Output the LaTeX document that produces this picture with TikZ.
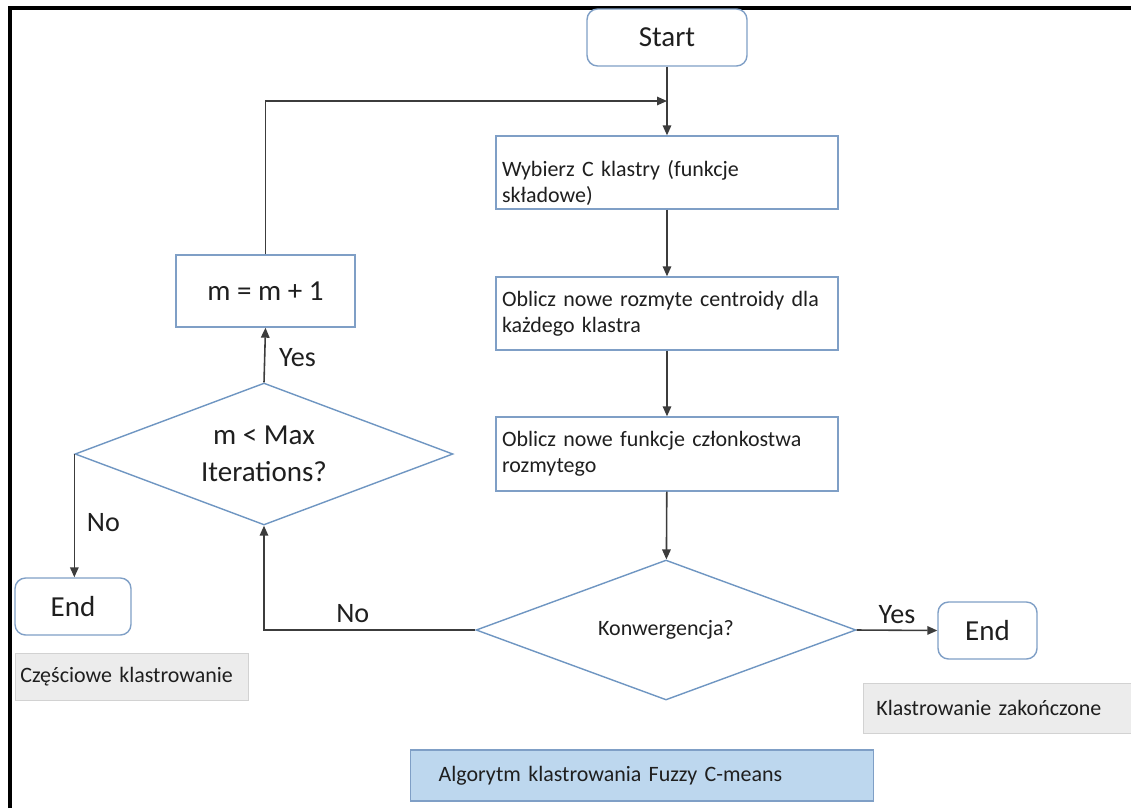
\documentclass[tikz,border=0pt]{standalone}
\usepackage{fontspec}
\setmainfont{Carlito}
\usetikzlibrary{arrows.meta, positioning, shapes.geometric}
\definecolor{azulborde}{HTML}{7F9FC6}
\definecolor{azulrombo}{HTML}{6F96C2}
\definecolor{grisoscuro}{HTML}{3C3C3C}
\definecolor{grisclaro}{HTML}{ECECEC}
\definecolor{grisborde}{HTML}{D2D2D2}
\definecolor{azulclaro}{HTML}{BDD7EE}
\colorlet{colBorde}{azulborde}
\colorlet{colRombo}{azulrombo}
\colorlet{colFlecha}{grisoscuro}
\colorlet{colTexto}{black!88}
\colorlet{colNota}{grisclaro}
\colorlet{colNotaBorde}{grisborde}
\colorlet{colTitulo}{azulclaro}
\tikzset{
  cajaBase/.style={
    draw=colBorde, line width=0.8pt, fill=white,
    align=center, text=colTexto, inner sep=2pt,
    font=\fontsize{16.5}{20}\selectfont
  },
  cajaTerminal/.style={cajaBase, rounded corners=6pt, minimum height=1.14cm},
  cajaContador/.style={cajaBase, minimum width=3.58cm, minimum height=1.44cm},
  cajaProceso/.style={cajaBase, minimum width=6.84cm, minimum height=1.44cm,
    text width=6.6cm, align=left, font=\fontsize{12.5}{15}\selectfont},
  rombo/.style={diamond, aspect=2.7, draw=colRombo, line width=0.8pt, fill=white,
    align=center, text=colTexto, inner sep=1pt},
  notaBase/.style={anchor=west, align=left, text=colTexto,
    font=\fontsize{12.5}{15}\selectfont},
  notaGris/.style={notaBase, draw=colNotaBorde, fill=colNota},
  notaAzul/.style={notaBase, draw=colBorde, line width=0.8pt, fill=colTitulo},
  flecha/.style={-{Triangle[length=2mm, width=1.7mm]}, line width=0.9pt, colFlecha},
  etiquetaFlecha/.style={font=\fontsize{16}{19}\selectfont, text=colTexto, inner sep=1pt},
  marco/.style={line width=2pt, black},
}

\begin{document}
\begin{tikzpicture}[x=0.02cm, y=-0.02cm]
    \useasboundingbox (0,0) rectangle (1131,808);
    \draw[marco] (10,808) -- (10,8) -- (1131,8);

    \node[cajaTerminal, minimum width=3.2cm] (start) at (667,37.5) {Start};
    \node[cajaProceso] (wybierz) at (667,172.5)
      {\rule{0pt}{0.73cm}Wybierz C klastry (funkcje\\ składowe)};
    \node[cajaProceso, minimum height=1.46cm] (centroidy) at (667,313.5)
      {Oblicz nowe rozmyte centroidy dla\\ każdego klastra};
    \node[cajaProceso, minimum height=1.48cm] (czlonkostwo) at (667,454)
      {Oblicz nowe funkcje członkostwa\\ rozmytego};
    \node[rombo, minimum width=7.6cm, minimum height=2.8cm,
      font=\fontsize{12.5}{15}\selectfont] (konw) at (666,630) {Konwergencja?};
    \node[cajaTerminal, minimum width=1.98cm] (endR) at (987.5,630.5) {End};

    \node[rombo, minimum width=7.56cm, minimum height=2.84cm,
      font=\fontsize{16.5}{21}\selectfont] (maxIter) at (264,454) {m < Max\\ Iterations?};
    \node[cajaContador] (licznik) at (265.5,291) {m = m + 1};
    \node[cajaTerminal, minimum width=2.32cm] (endL) at (73,606.5) {End};

    \node[notaGris, minimum height=0.94cm, text width=4.46cm, inner xsep=0.1cm]
      (czesciowe) at (15,676.5) {Częściowe klastrowanie};
    \node[notaGris, minimum height=1cm, text width=4.84cm, inner xsep=0.26cm]
      (zakonczone) at (863,708) {Klastrowanie zakończone};
    \node[notaAzul, minimum height=1.02cm, text width=8.14cm, inner xsep=0.56cm]
      (titulo) at (410,775.5) {Algorytm klastrowania Fuzzy C-means};

    \coordinate (wejscie) at (667,101);
    \draw[flecha] (start) -- (wybierz);
    \draw[flecha] (licznik.north) |- (wejscie);
    \draw[flecha] (wybierz) -- (centroidy);
    \draw[flecha] (centroidy) -- (czlonkostwo);
    \draw[flecha] (czlonkostwo) -- (konw);
    \draw[flecha] (konw.east) -- node[etiquetaFlecha, above, yshift=2pt] {Yes} (endR.west);
    \draw[flecha] (konw.west) -| node[etiquetaFlecha, pos=0.29, above, yshift=3pt] {No}
      (maxIter.south);
    \draw[flecha] (maxIter.north) -- node[etiquetaFlecha, pos=0.45, right, xshift=0.24cm] {Yes}
      (licznik.south);
    \draw[flecha] (maxIter.west) -- node[etiquetaFlecha, pos=0.56, right, xshift=0.2cm] {No}
      (maxIter.west |- endL.north);
  \end{tikzpicture}
\end{document}
